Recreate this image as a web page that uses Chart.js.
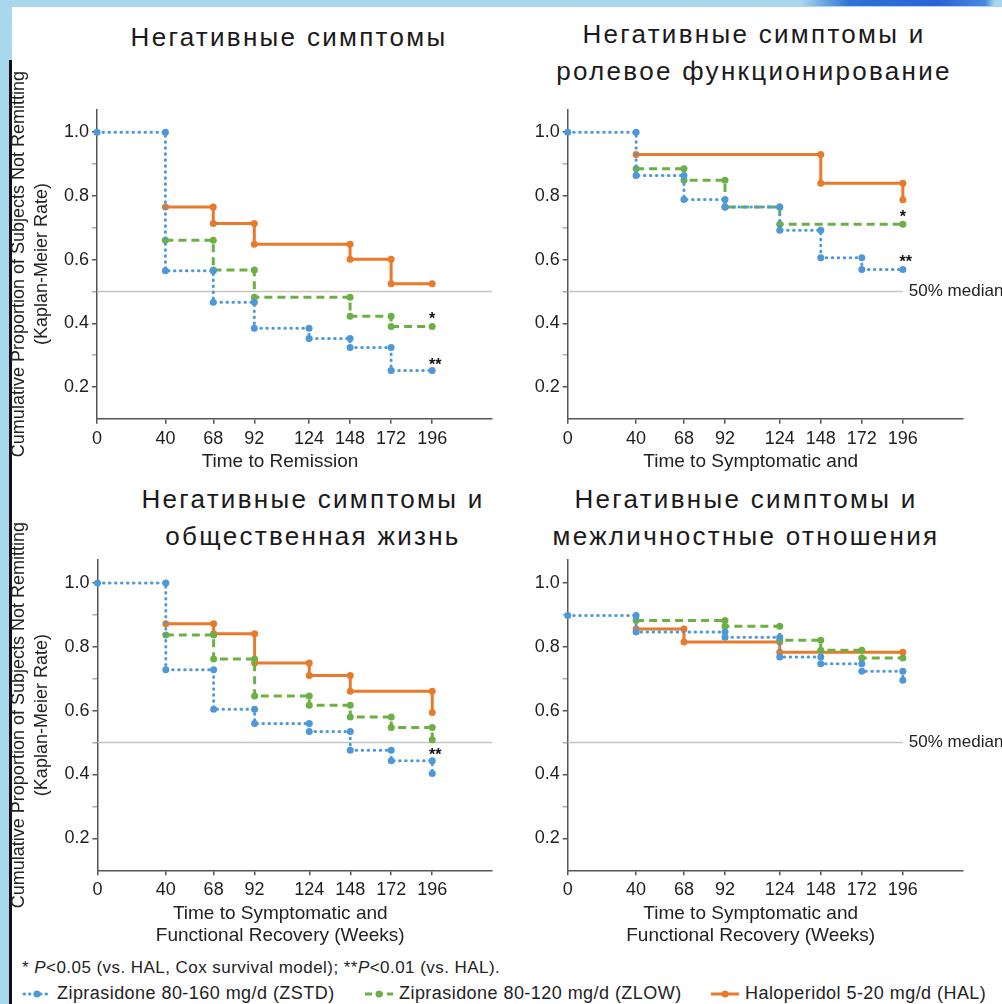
<!DOCTYPE html>
<html>
<head>
<meta charset="utf-8">
<script src="https://cdn.jsdelivr.net/npm/chart.js@4.4.1/dist/chart.umd.min.js"></script>
<style>
  body { margin: 0; width: 1002px; height: 1004px; position: relative; overflow: hidden; background: #fff;
         font-family: "Liberation Sans", Arial, sans-serif; color: #222; }
  canvas { position: absolute; }
  .frame-top { position: absolute; left: 0; top: 0; width: 1002px; height: 7px; background: #a9d8ee; }
  .frame-blob { position: absolute; left: 800px; top: 0; width: 195px; height: 6px;
                background: linear-gradient(90deg, #a9d8ee 0%, #2f74d4 25%, #2a62d8 70%, #4a86e0 95%, #a9d8ee 100%);
                border-radius: 0 0 40px 60px; }
  .frame-left { position: absolute; left: 0; top: 0; width: 12px; height: 1004px; background: #a9d8ee; }
  .frame-line { position: absolute; left: 9px; top: 60px; width: 3px; height: 944px; background: #111; }
  .title { position: absolute; font-size: 26px; line-height: 37px; text-align: center; color: #1a1a1a;
           letter-spacing: 2.3px; white-space: nowrap; }
  .note { position: absolute; left: 22px; font-size: 17px; letter-spacing: 0.45px; color: #222; white-space: nowrap; }
  .leg { position: absolute; top: 983px; font-size: 18px; letter-spacing: 0.45px; color: #222; white-space: nowrap;
         display: flex; align-items: center; }
  .leg svg { margin-right: 5px; }
</style>
</head>
<body>
<div class="frame-top"></div>
<div class="frame-blob"></div>
<div class="frame-left"></div>
<div class="frame-line"></div>

<div class="title" style="left:89px;width:400px;top:19px">Негативные симптомы</div>
<div class="title" style="left:554px;width:400px;top:16px">Негативные симптомы и<br>ролевое функционирование</div>
<div class="title" style="left:113px;width:400px;top:481px">Негативные симптомы и<br>общественная жизнь</div>
<div class="title" style="left:546px;width:400px;top:481px">Негативные симптомы и<br>межличностные отношения</div>

<canvas id="remission" width="500" height="430" style="left:0;top:50px"></canvas>
<canvas id="role" width="502" height="390" style="left:500px;top:90px"></canvas>
<canvas id="social" width="500" height="450" style="left:0;top:505px"></canvas>
<canvas id="interpersonal" width="502" height="415" style="left:500px;top:540px"></canvas>

<div class="note" style="top:958px">* <i>P</i>&lt;0.05 (vs. HAL, Cox survival model); **<i>P</i>&lt;0.01 (vs. HAL).</div>
<div class="leg" style="left:22px">
  <svg width="30" height="10"><line x1="2" y1="5" x2="28" y2="5" stroke="#4d98d9" stroke-width="3" stroke-dasharray="0.5 5" stroke-linecap="round"/><circle cx="15" cy="5" r="3.5" fill="#4d98d9"/></svg>
  Ziprasidone 80-160 mg/d (ZSTD)
</div>
<div class="leg" style="left:364px">
  <svg width="30" height="10"><line x1="1" y1="5" x2="29" y2="5" stroke="#6cb045" stroke-width="3" stroke-dasharray="7 4"/><circle cx="15" cy="5" r="3.5" fill="#6cb045"/></svg>
  Ziprasidone 80-120 mg/d (ZLOW)
</div>
<div class="leg" style="left:710px">
  <svg width="30" height="10"><line x1="1" y1="5" x2="29" y2="5" stroke="#e87a2b" stroke-width="3"/><circle cx="15" cy="5" r="3.5" fill="#e87a2b"/></svg>
  Haloperidol 5-20 mg/d (HAL)
</div>

<script>
// time points (weeks) and y tick values
const weeks = [0, 40, 68, 92, 124, 148, 172, 196]
const yTicks = [0.2, 0.3, 0.4, 0.5, 0.6, 0.7, 0.8, 0.9, 1.0]

// Kaplan-Meier rate after each time point (null = curve not started yet)
// Time to remission
const remZstd = [1.0, 0.565, 0.466, 0.384, 0.352, 0.324, 0.252, 0.252]
const remZlow = [null, 0.661, 0.567, 0.482, 0.482, 0.422, 0.39, 0.39]
const remHal = [null, 0.765, 0.713, 0.648, 0.648, 0.601, 0.524, 0.524]
const remMarks = [{ week: 196, rate: 0.426, text: '*' }, { week: 196, rate: 0.28, text: '**' }]

// Role functioning
const roleZstd = [1.0, 0.864, 0.789, 0.765, 0.692, 0.606, 0.569, 0.569]
const roleZlow = [null, 0.885, 0.849, 0.765, 0.711, 0.711, 0.711, 0.711]
const roleHal = [null, 0.930, 0.930, 0.930, 0.930, 0.840, 0.840, 0.788]
const roleMarks = [{ week: 196, rate: 0.745, text: '*' }, { week: 196, rate: 0.604, text: '**' }]

// Social life
const socZstd = [1.0, 0.728, 0.604, 0.56, 0.535, 0.476, 0.443, 0.403]
const socZlow = [null, 0.837, 0.762, 0.646, 0.617, 0.58, 0.547, 0.509]
const socHal = [null, 0.872, 0.841, 0.749, 0.71, 0.661, 0.661, 0.594]
const socMarks = [{ week: 196, rate: 0.474, text: '**' }]

// Interpersonal relations
const intZstd = [0.898, 0.846, 0.846, 0.83, 0.768, 0.747, 0.723, 0.695]
const intZlow = [null, 0.882, 0.882, 0.864, 0.82, 0.789, 0.765, 0.765]
const intHal = [null, 0.856, 0.815, 0.815, 0.783, 0.783, 0.783, 0.783]

const FONT = '"Liberation Sans", Arial, sans-serif'
const BLUE = '#4d98d9', GREEN = '#6cb045', ORANGE = '#e87a2b'

// turn KM rates into step points (marker at top and bottom of every drop)
function stepPoints(values) {
    const pts = []
    let prev = null
    values.forEach((v, i) => {
        if (v === null) return
        const last = i === values.length - 1
        if (prev !== null && v !== prev) pts.push({ x: weeks[i], y: prev })
        if (prev === null || v !== prev || last) pts.push({ x: weeks[i], y: v })
        prev = v
    })
    return pts
}

function curve(values, color, dash, order) {
    return {
        data: stepPoints(values),
        borderColor: color,
        backgroundColor: color,
        borderWidth: 3,
        borderDash: dash,
        borderCapStyle: dash.length && dash[0] < 1 ? 'round' : 'butt',
        pointRadius: 3.5,
        pointBorderWidth: 0,
        pointBackgroundColor: color,
        tension: 0,
        clip: false,
        order: order
    }
}

// asterisks, "50% median" label and x axis titles
const notesPlugin = {
    id: 'notes',
    afterDatasetsDraw(chart, args, opts) {
        const { ctx, chartArea, scales: { x, y } } = chart
        ctx.save()
        ctx.fillStyle = '#111'
        ctx.font = 'bold 16px ' + FONT
        ctx.textAlign = 'center'
        ctx.textBaseline = 'alphabetic'
        ;(opts.marks || []).forEach(m => {
            ctx.fillText(m.text, x.getPixelForValue(m.week) + (m.text.length > 1 ? 3 : 0), y.getPixelForValue(m.rate) + 9)
        })
        if (opts.median) {
            ctx.font = '17px ' + FONT
            ctx.fillStyle = '#222'
            ctx.textAlign = 'left'
            ctx.textBaseline = 'middle'
            ctx.fillText('50% median', x.getPixelForValue(196) + 6, y.getPixelForValue(0.5))
        }
        ctx.font = '19px ' + FONT
        ctx.fillStyle = '#222'
        ctx.textAlign = 'center'
        ctx.textBaseline = 'middle'
        opts.xTitle.forEach((line, i) => {
            ctx.fillText(line, x.getPixelForValue(opts.xTitleAt), chartArea.bottom + 43 + i * 22)
        })
        ctx.restore()
    }
}

function drawPanel(id, cfg) {
    const axisFont = { family: FONT, size: 18 }
    new Chart(document.getElementById(id), {
        type: 'line',
        data: {
            datasets: [
                {
                    data: [{ x: 0, y: 0.5 }, { x: cfg.refEnd, y: 0.5 }],
                    borderColor: '#c4c4c4', borderWidth: 1.5, pointRadius: 0, clip: false, order: 10
                },
                curve(cfg.hal, ORANGE, [], 3),
                curve(cfg.zlow, GREEN, [8, 5], 2),
                curve(cfg.zstd, BLUE, [0.5, 5.5], 1)
            ]
        },
        options: {
            responsive: false,
            animation: false,
            devicePixelRatio: 1,
            layout: { padding: cfg.padding },
            plugins: {
                legend: { display: false },
                tooltip: { enabled: false },
                notes: { marks: cfg.marks, median: cfg.median, xTitle: cfg.xTitle, xTitleAt: 107 }
            },
            scales: {
                x: {
                    type: 'linear',
                    min: 0,
                    max: 231,
                    afterBuildTicks: s => { s.ticks = weeks.map(v => ({ value: v })) },
                    afterFit: s => { s.height = cfg.xHeight },
                    ticks: { autoSkip: false, maxRotation: 0, padding: 4, color: '#1e1e1e', font: axisFont },
                    grid: { drawOnChartArea: false, tickLength: 5, color: '#555', lineWidth: 1.5 },
                    border: { color: '#555', width: 1.5 }
                },
                y: {
                    type: 'linear',
                    min: 0.1,
                    max: 1.072,
                    afterBuildTicks: s => { s.ticks = yTicks.map(v => ({ value: v })) },
                    afterFit: s => { s.width = cfg.yWidth },
                    ticks: {
                        padding: 3, color: '#1e1e1e', font: axisFont,
                        callback: v => Math.round(v * 10) % 2 === 0 ? v.toFixed(1) : ''
                    },
                    grid: {
                        drawOnChartArea: false, tickLength: 5, lineWidth: 1.5,
                        tickColor: c => c.tick && Math.round(c.tick.value * 10) % 2 === 0 ? '#555' : '#aaa'
                    },
                    border: { color: '#555', width: 1.5 },
                    title: {
                        display: cfg.yTitle, color: '#222',
                        text: ['Cumulative Proportion of Subjects Not Remitting', '(Kaplan-Meier Rate)'],
                        font: { family: FONT, size: 18, lineHeight: 1.25 },
                        padding: 0
                    }
                }
            }
        },
        plugins: [notesPlugin]
    })
}

drawPanel('remission', {
    zstd: remZstd, zlow: remZlow, hal: remHal, marks: remMarks, median: false, refEnd: 231,
    padding: { left: 8, top: 59.3, right: 8, bottom: 0 }, yWidth: 89, xHeight: 61.2,
    xTitle: ['Time to Remission'], yTitle: true
})
drawPanel('role', {
    zstd: roleZstd, zlow: roleZlow, hal: roleHal, marks: roleMarks, median: true, refEnd: 196,
    padding: { left: 0, top: 19.3, right: 39.3, bottom: 0 }, yWidth: 67.7, xHeight: 61.2,
    xTitle: ['Time to Symptomatic and'], yTitle: false
})
drawPanel('social', {
    zstd: socZstd, zlow: socZlow, hal: socHal, marks: socMarks, median: false, refEnd: 231,
    padding: { left: 8, top: 54.9, right: 8, bottom: 0 }, yWidth: 89.5, xHeight: 84.7,
    xTitle: ['Time to Symptomatic and', 'Functional Recovery (Weeks)'], yTitle: true
})
drawPanel('interpersonal', {
    zstd: intZstd, zlow: intZlow, hal: intHal, marks: [], median: true, refEnd: 196,
    padding: { left: 0, top: 19.9, right: 39.3, bottom: 0 }, yWidth: 67.7, xHeight: 84.7,
    xTitle: ['Time to Symptomatic and', 'Functional Recovery (Weeks)'], yTitle: false
})
</script>
</body>
</html>
